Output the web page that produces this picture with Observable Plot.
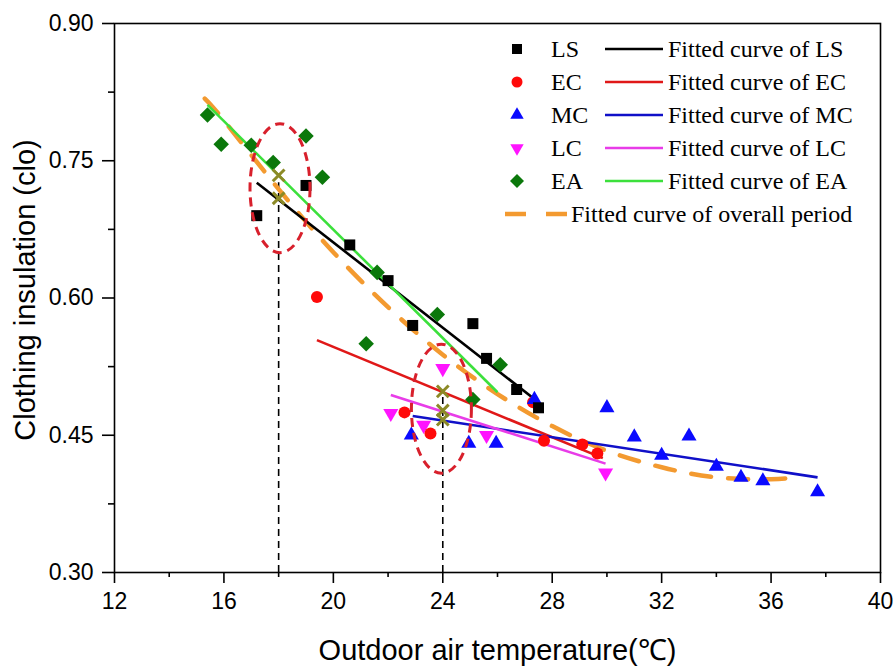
<!DOCTYPE html>
<html><head><meta charset="utf-8">
<script src="https://cdn.jsdelivr.net/npm/d3@7"></script>
<script src="https://cdn.jsdelivr.net/npm/@observablehq/plot@0.6"></script>
<style>
body{margin:0;background:#fff}
#wrap{position:relative;width:896px;height:666px}
</style>
</head><body><div id="wrap"></div>
<script>
const lsX = [17.2, 19.0, 20.6, 22.0, 22.9, 25.1, 25.6, 26.7, 27.5];
const lsY = [0.690, 0.723, 0.658, 0.619, 0.570, 0.572, 0.534, 0.500, 0.480];
const ecX = [19.4, 22.6, 23.55, 27.3, 27.7, 29.1, 29.65];
const ecY = [0.601, 0.475, 0.452, 0.486, 0.444, 0.440, 0.430];
const mcX = [22.85, 24.95, 25.95, 27.35, 30.0, 31.0, 32.0, 33.0, 34.0, 34.9, 35.7, 37.7];
const mcY = [0.450, 0.441, 0.441, 0.489, 0.480, 0.448, 0.428, 0.449, 0.416, 0.404, 0.400, 0.388];
const lcX = [22.1, 23.3, 24.0, 25.6, 29.95];
const lcY = [0.474, 0.461, 0.523, 0.450, 0.409];
const eaX = [15.4, 15.9, 17.0, 17.8, 19.0, 19.6, 21.2, 21.6, 23.8, 25.1, 26.1];
const eaY = [0.800, 0.768, 0.767, 0.748, 0.777, 0.732, 0.550, 0.628, 0.582, 0.489, 0.527];

// ---- fitted lines per period (end points) ----
const fitSeries = ["LS", "EC", "MC", "LC", "EA"];
const fitX1 = [17.2, 19.4, 22.9, 22.1, 15.4];
const fitY1 = [0.726, 0.554, 0.471, 0.494, 0.811];
const fitX2 = [27.5, 29.85, 37.7, 29.95, 26.0];
const fitY2 = [0.486, 0.425, 0.404, 0.419, 0.497];

// ---- fitted curve of overall period ----
const overallX = [15.3, 16, 18, 20, 22, 24, 26, 28, 30, 32, 34, 36, 37.1];
const overallY = [0.818, 0.794, 0.719, 0.650, 0.590, 0.538, 0.495, 0.460, 0.433, 0.415, 0.404, 0.402, 0.405];

// ---- annotations ----
const refX = [18, 24];
const refTop = [0.726, 0.498];
const crossX = [18, 18, 24, 24, 24];
const crossY = [0.734, 0.709, 0.498, 0.477, 0.467];
const ellipseX = [18.05, 23.95];
const ellipseY = [0.720, 0.479];

// ---- axes ----
const xTicks = [12, 16, 20, 24, 28, 32, 36, 40];
const xMinor = [14, 18, 22, 26, 30, 34, 38];
const yTicks = [0.30, 0.45, 0.60, 0.75, 0.90];
const yMinor = [0.375, 0.525, 0.675, 0.825];
const xTitle = "Outdoor air temperature(℃)";
const yTitle = "Clothing insulation (clo)";
const overallLabel = "Fitted curve of overall period";

// ---- styles ----
const markerColor = {LS: "#000000", EC: "#ff0a0a", MC: "#0a0aff", LC: "#ff14ff", EA: "#0b780b"};
const lineColor = {LS: "#000000", EC: "#e01818", MC: "#1010c8", LC: "#e83ce8", EA: "#3ce03c"};
const orange = "#f39a30";

const sqrt3 = Math.sqrt(3);
const triangleDown = {
  draw(c, size) {
    const y = -Math.sqrt(size / (sqrt3 * 3));
    c.moveTo(0, -y * 2);
    c.lineTo(-sqrt3 * y, y);
    c.lineTo(sqrt3 * y, y);
    c.closePath();
  }
};
const ellipseSym = (rx, ry) => ({
  draw(c) {
    const k = 0.5523;
    c.moveTo(rx, 0);
    c.bezierCurveTo(rx, ry * k, rx * k, ry, 0, ry);
    c.bezierCurveTo(-rx * k, ry, -rx, ry * k, -rx, 0);
    c.bezierCurveTo(-rx, -ry * k, -rx * k, -ry, 0, -ry);
    c.bezierCurveTo(rx * k, -ry, rx, -ry * k, rx, 0);
    c.closePath();
  }
});

const pts = (xs, ys) => xs.map((x, i) => ({x, y: ys[i]}));
const ls = pts(lsX, lsY), ec = pts(ecX, ecY), mc = pts(mcX, mcY), lc = pts(lcX, lcY), ea = pts(eaX, eaY);
const fits = fitSeries.map((s, i) => ({s, x1: fitX1[i], y1: fitY1[i], x2: fitX2[i], y2: fitY2[i]}));
const overall = pts(overallX, overallY);
const refs = refX.map((x, i) => ({x, top: refTop[i]}));
const crosses = pts(crossX, crossY);
const ellipses = pts(ellipseX, ellipseY);

const chart = Plot.plot({
  width: 896,
  height: 666,
  marginLeft: 114,
  marginRight: 16,
  marginTop: 23,
  marginBottom: 94,
  x: {domain: [12, 40]},
  y: {domain: [0.30, 0.90]},
  style: {fontFamily: "'Liberation Sans', Arial, sans-serif", fontSize: "23px", background: "#fff", color: "#000"},
  marks: [
    Plot.axisX({ticks: xTicks, tickSize: 11, tickPadding: 9, tickFormat: d => String(d), label: null, strokeWidth: 1.6, fontSize: 23}),
    Plot.axisX({ticks: xMinor, tickSize: 5, tickFormat: () => "", label: null, strokeWidth: 1.6}),
    Plot.axisY({ticks: yTicks, tickSize: 12, tickPadding: 9, tickFormat: d3.format(".2f"), label: null, strokeWidth: 1.6, fontSize: 23}),
    Plot.axisY({ticks: yMinor, tickSize: 6, tickFormat: () => "", label: null, strokeWidth: 1.6}),
    Plot.ruleX(refs, {x: "x", y1: 0.30, y2: "top", stroke: "#000", strokeWidth: 1.6, strokeDasharray: "7,5"}),
    Plot.line(overall, {x: "x", y: "y", curve: "natural", stroke: orange, strokeWidth: 4.5, strokeDasharray: "20,17"}),
    Plot.link(fits, {x1: "x1", y1: "y1", x2: "x2", y2: "y2", stroke: d => lineColor[d.s], strokeWidth: 2.6}),
    Plot.dot(lc, {x: "x", y: "y", symbol: triangleDown, r: 5.6, fill: markerColor.LC}),
    Plot.dot(ec, {x: "x", y: "y", symbol: "circle", r: 6, fill: markerColor.EC}),
    Plot.dot(mc, {x: "x", y: "y", symbol: "triangle", r: 5.6, fill: markerColor.MC}),
    Plot.dot(ea, {x: "x", y: "y", symbol: "diamond2", r: 7, fill: markerColor.EA, stroke: null}),
    Plot.dot(ls, {x: "x", y: "y", symbol: "square", r: 6.2, fill: markerColor.LS}),
    Plot.dot(crosses, {x: "x", y: "y", symbol: "times", r: 5.4, stroke: "#8c8a26", strokeWidth: 3}),
    Plot.dot(ellipses, {x: "x", y: "y", symbol: ellipseSym(30, 64.5), r: 10, fill: "none", stroke: "#d8202c", strokeWidth: 3, strokeDasharray: "9,6"}),
    Plot.frame({stroke: "#000", strokeWidth: 1.6}),
    Plot.text([yTitle], {frameAnchor: "left", textAnchor: "middle", lineAnchor: "middle", dx: -89, dy: -8, rotate: -90, fontSize: 29, fill: "#000"}),
    Plot.text([xTitle], {frameAnchor: "bottom", textAnchor: "middle", lineAnchor: "middle", dy: 78, fontSize: 29, fill: "#000"})
  ]
});
document.getElementById("wrap").appendChild(chart);

// ---- legend (overlay, top right inside plot) ----
const leg = d3.select("#wrap").append("svg")
  .attr("width", 896).attr("height", 666)
  .style("position", "absolute").style("left", "0px").style("top", "0px")
  .style("pointer-events", "none")
  .attr("font-family", "'Liberation Serif', 'Times New Roman', serif")
  .attr("font-size", 24);
const legSym = {LS: [d3.symbolSquare, 100], EC: [d3.symbolCircle, 95], MC: [d3.symbolTriangle, 78], LC: [triangleDown, 78], EA: [d3.symbolDiamond2, 125]};
fitSeries.forEach((s, i) => {
  const g = leg.append("g").attr("transform", `translate(0,${49 + 33 * i})`);
  g.append("path").attr("transform", "translate(517,0)")
    .attr("d", d3.symbol(legSym[s][0], legSym[s][1])()).attr("fill", markerColor[s]);
  g.append("text").attr("x", 551).attr("dy", "0.34em").text(s);
  g.append("line").attr("x1", 605).attr("x2", 663).attr("stroke", lineColor[s]).attr("stroke-width", 2.6);
  g.append("text").attr("x", 668).attr("dy", "0.34em").text("Fitted curve of " + s);
});
const go = leg.append("g").attr("transform", `translate(0,${49 + 33 * 5})`);
go.append("line").attr("x1", 505).attr("x2", 568).attr("stroke", orange).attr("stroke-width", 4.5).attr("stroke-dasharray", "21,20");
go.append("text").attr("x", 571).attr("dy", "0.34em").text(overallLabel);
</script>
</body></html>
